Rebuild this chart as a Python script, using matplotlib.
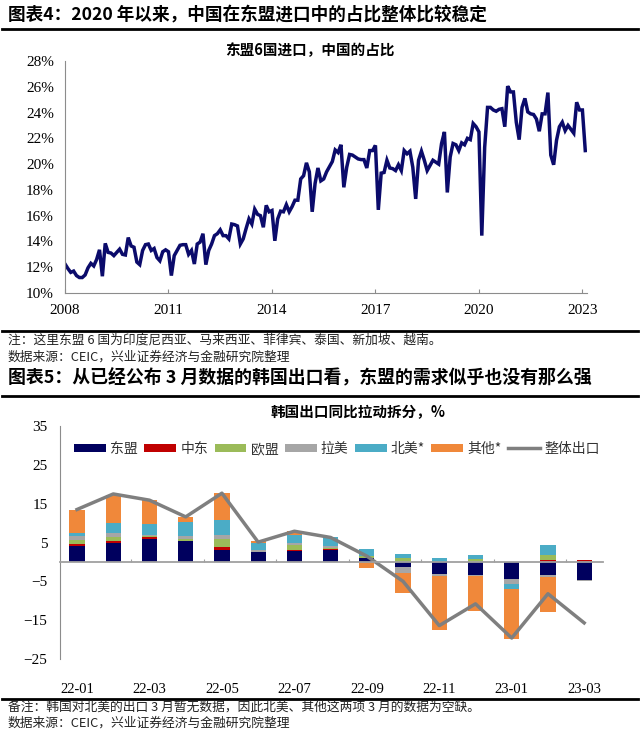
import matplotlib
matplotlib.use("Agg")
import matplotlib.pyplot as plt
import matplotlib.ticker as ticker
from matplotlib.lines import Line2D
from matplotlib.patches import Patch
import numpy as np

CJK = ['Noto Sans CJK SC', 'DejaVu Sans']
NUM = ['Liberation Serif', 'Noto Sans CJK SC']

# ---- chart 4: China's share of ASEAN-6 imports, monthly, %
share_2008 = [12.25, 11.9, 11.6, 11.7, 11.35, 11.2, 11.2, 11.4, 11.95, 12.3, 12.1, 12.6]
share_2009 = [13.35, 11.3, 13.85, 13.15, 13.1, 12.9, 13.15, 13.4, 13.0, 12.95, 14.3, 13.65]
share_2010 = [13.55, 12.4, 12.2, 13.3, 13.75, 13.8, 13.3, 13.45, 12.75, 12.5, 13.2, 13.35]
share_2011 = [13.2, 11.35, 12.9, 13.3, 13.7, 13.75, 13.75, 13.0, 13.3, 12.25, 13.8, 13.95]
share_2012 = [14.6, 12.2, 13.3, 13.8, 14.45, 14.6, 14.9, 14.45, 14.45, 14.2, 15.35, 15.3]
share_2013 = [15.2, 13.8, 14.2, 15.0, 15.75, 15.35, 16.5, 16.1, 16.0, 15.1, 16.8, 16.3]
share_2014 = [16.4, 14.05, 15.75, 16.35, 16.3, 16.85, 16.3, 16.7, 17.2, 17.2, 18.85, 19.1]
share_2015 = [20.1, 19.4, 16.3, 18.5, 19.7, 18.7, 18.85, 19.4, 19.8, 20.2, 21.1, 20.9]
share_2016 = [21.5, 18.2, 19.75, 20.75, 20.7, 20.55, 20.4, 20.35, 20.35, 19.7, 21.05, 21.05]
share_2017 = [21.45, 16.45, 19.3, 19.35, 20.3, 19.7, 19.65, 19.5, 19.95, 19.5, 21.05, 20.8]
share_2018 = [21.0, 19.75, 17.3, 20.3, 21.0, 20.3, 19.5, 19.9, 20.3, 20.15, 20.0, 21.6]
share_2019 = [22.5, 17.8, 20.55, 21.6, 21.5, 21.05, 21.65, 21.5, 22.0, 21.9, 23.15, 22.9]
share_2020 = [22.5, 14.45, 21.3, 24.4, 24.4, 24.2, 24.1, 24.25, 24.3, 22.9, 26.05, 25.6]
share_2021 = [25.6, 23.25, 21.9, 24.4, 25.1, 24.05, 23.9, 23.85, 23.5, 22.55, 23.9, 23.9]
share_2022 = [25.55, 20.7, 19.95, 21.85, 22.9, 23.25, 22.6, 23.0, 22.7, 22.4, 24.8, 24.2]
share_2023 = [24.2, 21.05]
year_ticks = [2008, 2011, 2014, 2017, 2020, 2023]

share = (share_2008 + share_2009 + share_2010 + share_2011 + share_2012
         + share_2013 + share_2014 + share_2015 + share_2016 + share_2017
         + share_2018 + share_2019 + share_2020 + share_2021 + share_2022
         + share_2023)

# ---- chart 5: Korea export yoy contribution by destination, %
months = ['22-01', '22-02', '22-03', '22-04', '22-05', '22-06', '22-07', '22-08',
          '22-09', '22-10', '22-11', '22-12', '23-01', '23-02', '23-03']
asean = [4.0, 5.0, 5.9, 5.3, 3.05, 2.45, 2.9, 3.1, 1.0, -1.3, -3.0, -3.4, -4.3, -3.4, -4.7]
mideast = [0.5, 0.5, 0.45, 0.1, 0.85, 0.05, 0.25, 0.1, 0.0, 0.0, 0.0, 0.0, 0.0, 0.45, 0.5]
eu = [1.1, 1.0, 0.25, 0.6, 2.0, 0.15, 1.3, 0.5, 0.6, 0.9, 0.0, 0.85, 0.0, 1.45, 0.0]
latam = [1.05, 0.9, 0.3, 0.6, 1.15, 0.35, 0.3, 0.4, 0.0, -1.5, -0.6, -0.2, -1.3, -0.6, -0.3]
namerica = [0.7, 2.6, 2.9, 3.7, 3.65, 1.9, 2.2, 2.2, 1.7, 1.1, 1.1, 1.05, -1.3, 2.55, np.nan]
others = [6.1, 7.2, 6.1, 1.3, 7.0, 0.45, 1.0, 0.0, -1.5, -5.3, -14.0, -9.0, -12.9, -8.9, np.nan]
total = [13.5, 17.5, 15.9, 11.6, 17.7, 5.1, 7.9, 6.3, 1.5, -5.0, -16.4, -10.8, -19.6, -8.2, -15.7]

series = [('东盟', asean, '#00005E'), ('中东', mideast, '#C00000'),
          ('欧盟', eu, '#9BBB59'), ('拉美', latam, '#A6A6A6'),
          ('北美*', namerica, '#4BACC6'), ('其他*', others, '#F0883A')]


def fx(x):
    return x / 640


def fy(y):
    return 1 - y / 733


fig = plt.figure(figsize=(6.4, 7.33), dpi=100)

# headings, notes and rules
fig.text(fx(8), fy(14), '图表4：2020 年以来，中国在东盟进口中的占比整体比较稳定',
         family=CJK, fontsize=12.7, weight='bold', va='center')
fig.text(fx(8), fy(340), '注：这里东盟 6 国为印度尼西亚、马来西亚、菲律宾、泰国、新加坡、越南。',
         family=CJK, fontsize=9.2, va='center', color='#222222')
fig.text(fx(8), fy(357), '数据来源：CEIC，兴业证券经济与金融研究院整理',
         family=CJK, fontsize=9.2, va='center', color='#222222')
fig.text(fx(8), fy(378), '图表5：从已经公布 3 月数据的韩国出口看，东盟的需求似乎也没有那么强',
         family=CJK, fontsize=12.9, weight='bold', va='center')
fig.text(fx(8), fy(707), '备注：韩国对北美的出口 3 月暂无数据，因此北美、其他这两项 3 月的数据为空缺。',
         family=CJK, fontsize=9.2, va='center', color='#222222')
fig.text(fx(8), fy(723), '数据来源：CEIC，兴业证券经济与金融研究院整理',
         family=CJK, fontsize=9.2, va='center', color='#222222')
for y in [29, 331, 396, 699]:
    fig.add_artist(Line2D([fx(2), fx(638)], [fy(y), fy(y)],
                          transform=fig.transFigure, color='black', lw=2))

# ---- top chart
ax1 = fig.add_axes([fx(65), fy(293), fx(587) - fx(65), fy(61) - fy(293)])
x = np.arange(len(share))
ax1.plot(x, share, color='#0B0B6B', lw=2.5, solid_joinstyle='miter')
ax1.set_ylim(10, 28)
ax1.set_yticks(np.arange(10, 29, 2))
ax1.yaxis.set_major_formatter(ticker.FuncFormatter(lambda v, _: f'{v:.0f}%'))
ax1.set_xlim(0, 181.6)
ax1.set_xticks([(y - 2008) * 12 for y in year_ticks])
ax1.set_xticklabels([str(y) for y in year_ticks])
for side in ['top', 'right']:
    ax1.spines[side].set_visible(False)
for side in ['left', 'bottom']:
    ax1.spines[side].set_color('#8C8C8C')
ax1.tick_params(axis='y', length=0, pad=8, labelsize=11)
ax1.tick_params(axis='x', direction='in', length=3, color='#8C8C8C', pad=8, labelsize=11)
for lab in ax1.get_xticklabels() + ax1.get_yticklabels():
    lab.set_family(NUM)
fig.text(fx(310), fy(50), '东盟6国进口，中国的占比', family=CJK, fontsize=10.5,
         weight='bold', ha='center', va='center')

# ---- bottom chart
ax2 = fig.add_axes([fx(60), fy(659), fx(603) - fx(60), fy(426) - fy(659)])
pos = np.arange(len(months))
pos_bottom = np.zeros(len(months))
neg_bottom = np.zeros(len(months))
handles = []
for name, vals, color in series:
    v = np.nan_to_num(np.array(vals, dtype=float))
    bottom = np.where(v >= 0, pos_bottom, neg_bottom)
    ax2.bar(pos, v, width=0.42, bottom=bottom, color=color, linewidth=0)
    pos_bottom += np.where(v >= 0, v, 0)
    neg_bottom += np.where(v < 0, v, 0)
    handles.append(Patch(facecolor=color, label=name))
ax2.plot(pos, total, color='#7F7F7F', lw=2.5)
handles.append(Line2D([0], [0], color='#7F7F7F', lw=2.5, label='整体出口'))

ax2.set_ylim(-25, 35)
ax2.set_yticks([35, 25, 15, 5, -5, -15, -25])
ax2.set_xlim(-0.47, 14.52)
ax2.spines['bottom'].set_position(('data', 0))
ax2.spines['bottom'].set_color('#A0A0A0')
ax2.spines['bottom'].set_linewidth(1.3)
ax2.spines['left'].set_color('#8C8C8C')
for side in ['top', 'right']:
    ax2.spines[side].set_visible(False)
ax2.set_xticks(np.arange(1.5, 14, 2))
ax2.tick_params(axis='x', direction='in', length=2.5, color='#A0A0A0', labelbottom=False)
ax2.tick_params(axis='y', length=0, pad=9, labelsize=11)
for lab in ax2.get_yticklabels():
    lab.set_family(NUM)

sec = ax2.secondary_xaxis(0)
sec.set_xticks(pos[::2], labels=months[::2])
sec.tick_params(length=0, pad=17, labelsize=10.5)
sec.spines['bottom'].set_visible(False)
for lab in sec.get_xticklabels():
    lab.set_family(NUM)

ax2.legend(handles=handles, loc='upper center', bbox_to_anchor=(0.51, 0.985), ncol=7,
           frameon=False, handlelength=2.3, handleheight=0.55, handletextpad=0.3,
           columnspacing=0.45, prop={'family': CJK, 'size': 10}, labelcolor='#333333')
fig.text(fx(358), fy(412), '韩国出口同比拉动拆分，%', family=CJK, fontsize=10.5,
         weight='bold', ha='center', va='center')

fig.savefig('out.png', dpi=100)
